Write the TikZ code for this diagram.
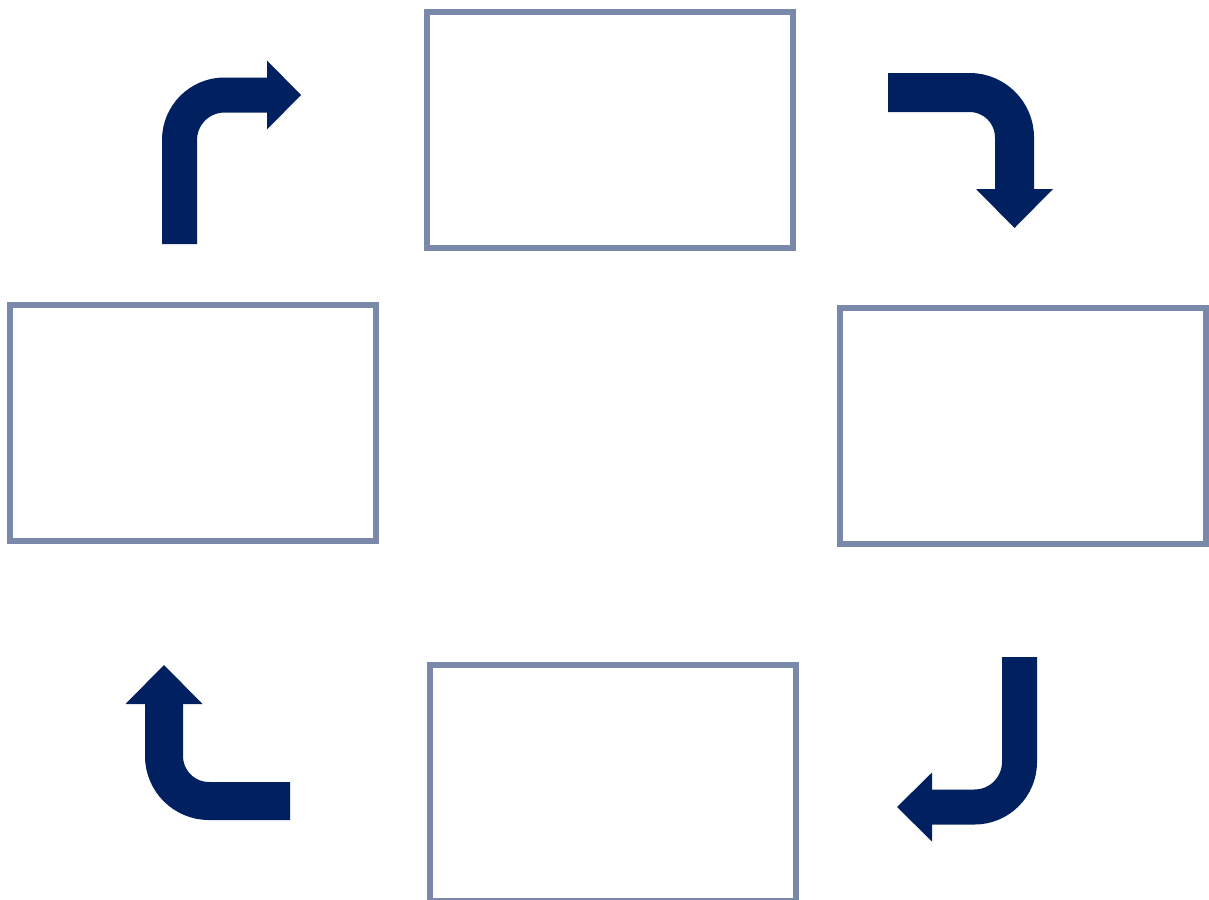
\documentclass[tikz,border=0pt]{standalone}
\usepackage {tikz}
\usetikzlibrary {positioning}
\usetikzlibrary{arrows.meta}
\definecolor {boxgray}{HTML}{7A88AA}
\definecolor {navyblue}{HTML}{002060}

\begin{document}
\begin{tikzpicture}[x=1pt ,y=-1pt ,
box/.style ={ rectangle ,draw ,boxgray ,line width =5.5pt ,
minimum width =366pt ,minimum height =236pt ,inner sep =0pt},
turn/.style ={ draw ,navyblue ,rounded corners =45pt}]
\useasboundingbox (0,0) rectangle (1209,899);

\node[box] (1) at (610,130) {};
\node[box] (2) at (1023,426) {};
\node[box] (3) at (613,783) {};
\node[box] (4) at (193,423) {};

\coordinate (a1) at (179.5,244);
\coordinate (a2) at (301,95);
\coordinate (b1) at (888,92.5);
\coordinate (b2) at (1014.5,228);
\coordinate (c1) at (1019.5,657);
\coordinate (c2) at (897,807);
\coordinate (d1) at (290,801);
\coordinate (d2) at (164,665);

\draw[turn ,line width =35pt ,-{Triangle[length=34pt,width=69pt,line width=0pt]}]
  (a1) |- (a2);
\draw[turn ,line width =39pt ,-{Triangle[length=39pt,width=77pt,line width=0pt]}]
  (b1) -| (b2);
\draw[turn ,line width =35pt ,-{Triangle[length=35pt,width=69pt,line width=0pt]}]
  (c1) |- (c2);
\draw[turn ,line width =38pt ,-{Triangle[length=39pt,width=77pt,line width=0pt]}]
  (d1) -| (d2);
\end{tikzpicture}
\end{document}
